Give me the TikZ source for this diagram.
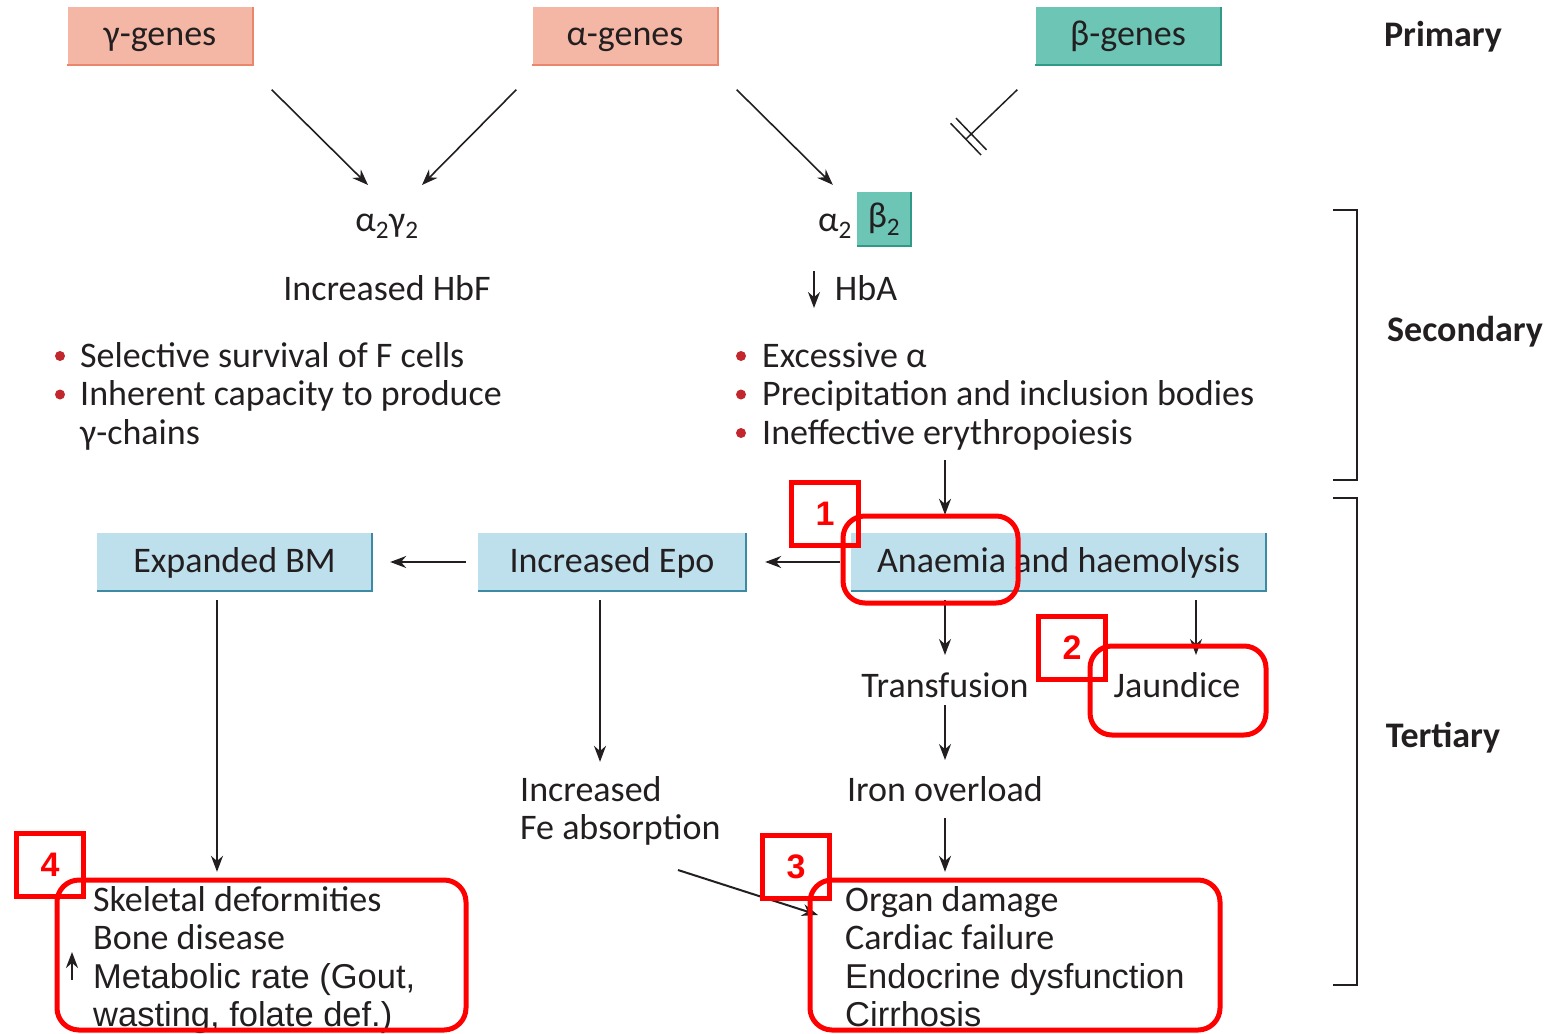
\documentclass[tikz,border=0pt]{standalone}
\usepackage{fontspec}
\setmainfont{Carlito}
\newfontfamily\arialfont{Liberation Sans}
\usetikzlibrary{arrows.meta,positioning}

\definecolor{ink}{HTML}{231F20}
\definecolor{genered}{HTML}{F5B7A5}
\definecolor{generedline}{HTML}{E9866B}
\definecolor{geneteal}{HTML}{6DC5B5}
\definecolor{genetealline}{HTML}{2E9A87}
\definecolor{stagefill}{HTML}{BEDFEC}
\definecolor{stageline}{HTML}{3C8AA3}
\definecolor{dotred}{HTML}{C1272D}
\definecolor{markred}{HTML}{FF0000}

\newcommand{\plainsans}{\arialfont\fontsize{34.5}{38.5}\selectfont}

\begin{document}
\begin{tikzpicture}[
    x=1pt, y=-1pt,
    every node/.style={font=\fontsize{36}{38.5}\selectfont, text=ink, inner sep=0pt},
    genebox/.style={fill=#1, minimum width=185pt, minimum height=57pt, text height=27pt, text depth=7pt},
    stage/.style={fill=stagefill, minimum height=58pt, text height=27pt, text depth=7pt},
    tier/.style={font=\fontsize{36}{38.5}\selectfont\bfseries},
    list/.style={anchor=base west, align=left},
    link/.style={draw=ink, line width=1.6pt, -{Stealth[length=16pt,width=12pt]}},
    block/.style={draw=ink, line width=1.5pt, -{Bar[width=44pt,sep=6pt]Bar[width=44pt]}},
    hilite/.style={draw=markred, line width=5pt, rounded corners=22pt},
    numbox/.style={draw=markred, line width=5pt, minimum width=67pt, minimum height=63pt,
                   text=markred, font=\arialfont\bfseries\fontsize{34}{36}\selectfont}
  ]
  \useasboundingbox (0,0) rectangle (1549,1033);

  % Genes
  \node[genebox=genered] (gam) at (160,36) {γ-genes};
  \node[genebox=genered] (alp) at (625,36) {α-genes};
  \node[genebox=geneteal] (bet) at (1128,36) {β-genes};
  \foreach \g/\c in {gam/generedline, alp/generedline, bet/genetealline}
    \draw[\c, line width=2pt] (\g.north east) -- (\g.south east) -- (\g.south west);

  % Chains
  \node[anchor=base] (hb1) at (387,231) {α\textsubscript{2}γ\textsubscript{2}};
  \node[anchor=base east] (a2) at (852,231) {α\textsubscript{2}};
  \node[fill=geneteal, minimum size=54pt] (b2) at (884,219) {β\textsubscript{2}};
  \draw[genetealline, line width=2pt] (b2.north east) -- (b2.south east) -- (b2.south west);
  \node[anchor=base] (hbf) at (387,300) {Increased HbF};
  \node[anchor=base] (hba) at (866,300) {HbA};

  % Secondary effects (lists sit on the baseline of their last line)
  \node[list] (lbul) at (80,444) {Selective survival of F cells\\Inherent capacity to produce\\γ-chains};
  \node[list] (rbul) at (762,444) {Excessive α\\Precipitation and inclusion bodies\\Ineffective erythropoiesis};
  \foreach \i in {1,2}
    \fill[dotred] ([shift={(-20,-11-38.5*\i)}]lbul.base west) circle (5);
  \foreach \i in {0,1,2}
    \fill[dotred] ([shift={(-21,-11-38.5*\i)}]rbul.base west) circle (5);

  % Tertiary effects
  \node[stage, minimum width=275pt] (bm) at (234.5,562) {Expanded BM};
  \node[stage, minimum width=268pt] (epo) at (612,562) {Increased Epo};
  \node[stage, minimum width=415pt] (anaemia) at (1058.5,562) {Anaemia and haemolysis};
  \foreach \s in {bm, epo, anaemia}
    \draw[stageline, line width=2pt] (\s.north east) -- (\s.south east) -- (\s.south west);

  \node[anchor=base] (tr) at (945,697) {Transfusion};
  \node[anchor=base] (jd) at (1177,697) {Jaundice};
  \node[anchor=base] (io) at (945,801) {Iron overload};
  \node[list] (fe) at (520,839.5) {Increased\\Fe absorption};
  \node[list] (skel) at (93,1026.5) {Skeletal deformities\\Bone disease\\{\plainsans Metabolic rate (Gout,}\\{\plainsans wasting, folate def.)}};
  \node[list] (org) at (845,1026.5) {Organ damage\\Cardiac failure\\{\plainsans Endocrine dysfunction}\\{\plainsans Cirrhosis}};

  % Levels
  \node[tier, anchor=base] (pri) at (1443,47) {Primary};
  \node[tier, anchor=base] (sec) at (1465,341) {Secondary};
  \node[tier, anchor=base] (ter) at (1443,747) {Tertiary};
  \draw[ink, line width=2pt] (1333,210) -- (1357,210) -- (1357,480) -- (1333,480);
  \draw[ink, line width=2pt] (1333,498) -- (1357,498) -- (1357,985) -- (1333,985);

  % Edges
  \draw[link] ([shift={(19,25)}]gam.south east) -- ([shift={(-19,-46)}]hb1.base);
  \draw[link] ([shift={(-16,25)}]alp.south west) -- ([shift={(35,-46)}]hb1.base);
  \draw[link] ([shift={(19,25)}]alp.south east) -- ([shift={(-24,-7)}]b2.north west);
  \draw[block] ([shift={(-18,25)}]bet.south west) -- ([shift={(-70,75)}]bet.south west);
  \draw[link, line width=2pt] ([shift={(-52,-29)}]hba.base) -- ([shift={(-52,8)}]hba.base);

  \draw[link, shorten <=10pt, shorten >=18pt] (rbul.south -| tr.base) -- (anaemia.north -| tr.base);
  \draw[link, shorten <=11pt, shorten >=19pt] (anaemia.west) -- (epo.east);
  \draw[link, shorten <=12pt, shorten >=18pt] (epo.west) -- (bm.east);
  \draw[link, shorten <=9pt] (tr.base |- anaemia.south) -- ([yshift=42pt]tr.base);
  \draw[link, shorten <=9pt] ([xshift=19pt]jd.base |- anaemia.south) -- ([shift={(19,-42)}]jd.base);
  \draw[link] ([yshift=-8pt]tr.base) -- ([yshift=41pt]io.base);
  \draw[link, shorten >=14pt] ([yshift=-17pt]io.base) -- (io.base |- org.north);
  \draw[link, shorten <=9pt, shorten >=14pt] ([xshift=-12pt]epo.south) -- ([xshift=-12pt]epo.south |- fe.north);
  \draw[link, shorten <=9pt, shorten >=14pt] ([xshift=-17.5pt]bm.south) -- ([xshift=-17.5pt]bm.south |- skel.north);
  \draw[link, line width=2pt] ([shift={(158,30.5)}]fe.base west) -- ([shift={(-27,-111.5)}]org.base west);
  \draw[link, line width=2.5pt] ([shift={(-21,-46.5)}]skel.base west) -- ([shift={(-21,-74.5)}]skel.base west);

  % Highlights
  \draw[hilite] (843,516) rectangle (1018,603);
  \draw[hilite] (1090,646) rectangle (1266,735);
  \draw[hilite] (810,880) rectangle (1220,1030);
  \draw[hilite] (57,880) rectangle (466,1030);
  \node[numbox] (n1) at (825,514) {1};
  \node[numbox] (n2) at (1072,648) {2};
  \node[numbox] (n3) at (796,867) {3};
  \node[numbox] (n4) at (50,865) {4};
\end{tikzpicture}
\end{document}
